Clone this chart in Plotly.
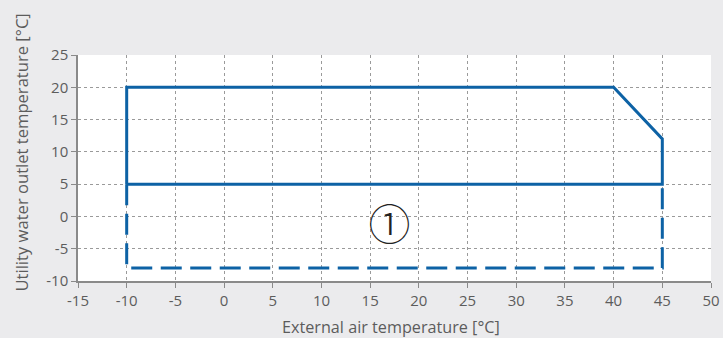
import plotly.graph_objects as go

# Operating envelope (solid boundary)
solid_x = [-10, -10, 40, 45, 45, -10]
solid_y = [5, 20, 20, 12, 5, 5]
# Extended envelope (dashed boundary)
dash_x = [-10, -10, 45, 45]
dash_y = [5, -8, -8, 5]
# Region label
label_x = [17]
label_y = [-2]
label_text = ["①"]

x_ticks = [-15, -10, -5, 0, 5, 10, 15, 20, 25, 30, 35, 40, 45, 50]
x_tick_text = ["-15", "-10", "-5", "0", "5", "10", "15", "20", "25", "30", "35", "40", "45", "50"]
y_ticks = [-10, -5, 0, 5, 10, 15, 20, 25]
y_tick_text = ["-10", "-5", "0", "5", "10", "15", "20", "25"]

x_title = "External air temperature [°C]"
y_title = "Utility water outlet temperature [°C]"

blue = "#0d62a5"
text_col = "#5c5c5c"
fig = go.Figure()
fig.add_trace(go.Scatter(x=dash_x, y=dash_y, mode="lines",
                         line=dict(color=blue, width=3, dash="21px,8.5px"),
                         hoverinfo="skip", showlegend=False))
fig.add_trace(go.Scatter(x=solid_x, y=solid_y, mode="lines",
                         line=dict(color=blue, width=3),
                         hoverinfo="skip", showlegend=False))
fig.add_trace(go.Scatter(x=label_x, y=label_y, mode="text", text=label_text,
                         textfont=dict(size=42, color="#222", family="Noto Sans CJK JP",
                                       weight=300),
                         hoverinfo="skip", showlegend=False))

axis_common = dict(
    showgrid=True, gridcolor="#9a9a9a", gridwidth=1, griddash="3px,3px",
    zeroline=False, showline=True, linecolor="#8a8a8a", linewidth=1.5,
    ticks="outside", tickcolor="#8a8a8a", ticklen=5, automargin=False,
    tickfont=dict(size=15, color=text_col),
)
fig.update_xaxes(range=[-15, 50], tickvals=x_ticks, ticktext=x_tick_text, **axis_common)
fig.update_yaxes(range=[-10, 25], tickvals=y_ticks, ticktext=y_tick_text, **axis_common)

fig.add_annotation(text=x_title, xref="paper", yref="paper", x=0.495, y=-0.204,
                   xanchor="center", yanchor="middle", showarrow=False,
                   font=dict(size=16.2, color=text_col))
fig.add_annotation(text=y_title, xref="paper", yref="paper", x=-0.09, y=0.5686,
                   xanchor="center", yanchor="middle", showarrow=False, textangle=-90,
                   font=dict(size=16.6, color=text_col))

fig.update_layout(
    width=723, height=338,
    margin=dict(l=78, r=12, t=55, b=57),
    paper_bgcolor="#ebebed", plot_bgcolor="white",
    font=dict(family="Open Sans", size=15, color=text_col),
)
fig.write_html("out.html", config={"displayModeBar": False},
               post_script="document.body.style.margin='0';")
